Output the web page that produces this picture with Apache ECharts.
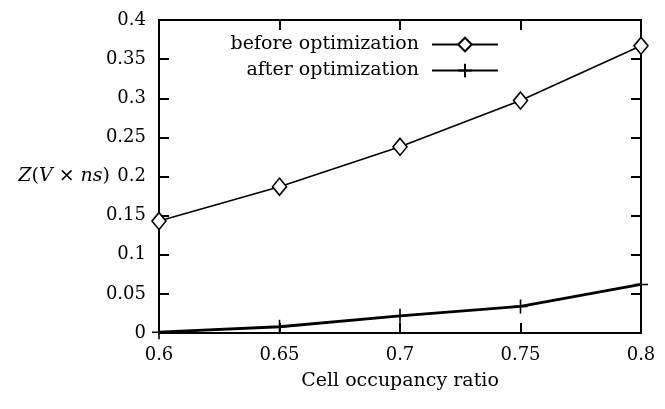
<!DOCTYPE html>
<html>
<head>
<meta charset="utf-8">
<script src="https://cdn.jsdelivr.net/npm/echarts@6/dist/echarts.min.js"></script>
<style>html,body{margin:0;padding:0;background:#fff}#c{width:665px;height:409px}</style>
</head>
<body>
<div id="c"></div>
<script>
var xValues = [0.6, 0.65, 0.7, 0.75, 0.8];
var beforeOpt = [0.143, 0.187, 0.238, 0.297, 0.367];
var afterOpt = [0.001, 0.008, 0.022, 0.034, 0.062];
var seriesNames = ['before optimization', 'after optimization'];
var xAxisTitle = 'Cell occupancy ratio';

var FONT = 'DejaVu Serif';
function pairs(ys) { return xValues.map(function (x, i) { return [x, ys[i]]; }); }
function fmt(v) { return String(Math.round(v * 1000) / 1000); }

var chart = echarts.init(document.getElementById('c'));
var tickStyle = { show: true, inside: true, length: 10, lineStyle: { color: '#000', width: 2 } };
var axisLine = { show: true, onZero: false, lineStyle: { color: '#000', width: 2 } };
var plusPath = 'path://M5,0L5,10M0,5L10,5';
var legendText = { fontFamily: FONT, fontSize: 19, color: '#000', padding: [0, 8, 0, 0] };

chart.setOption({
  animation: false,
  backgroundColor: '#fff',
  grid: { left: 159, right: 24, top: 20, bottom: 76, show: false },
  legend: [
    { data: [seriesNames[0]], orient: 'vertical', align: 'right', right: 161, top: 30,
      itemWidth: 66, itemHeight: 17, textStyle: legendText },
    { data: [seriesNames[1]], orient: 'vertical', align: 'right', right: 161, top: 56,
      itemWidth: 66, itemHeight: 17, textStyle: legendText }
  ],
  xAxis: [
    { type: 'value', min: 0.6, max: 0.8, interval: 0.05, position: 'bottom',
      axisLine: axisLine, axisTick: tickStyle, splitLine: { show: false },
      axisLabel: { margin: 13, fontFamily: FONT, fontSize: 18, color: '#000', formatter: fmt },
      name: xAxisTitle, nameLocation: 'middle', nameGap: 39,
      nameTextStyle: { fontFamily: FONT, fontSize: 19, color: '#000' } },
    { type: 'value', min: 0.6, max: 0.8, interval: 0.05, position: 'top',
      axisLine: axisLine, axisTick: tickStyle, splitLine: { show: false }, axisLabel: { show: false } }
  ],
  yAxis: [
    { type: 'value', min: 0, max: 0.4, interval: 0.05, position: 'left',
      axisLine: axisLine, axisTick: tickStyle, splitLine: { show: false },
      axisLabel: { margin: 13, fontFamily: FONT, fontSize: 18, color: '#000', formatter: fmt },
      name: '{i|Z}{r|(}{i|V}{r| × }{i|ns}{r|)}', nameLocation: 'middle', nameRotate: 0, nameGap: 49,
      nameMoveOverlap: false,
      nameTextStyle: { align: 'right', fontFamily: FONT, fontSize: 19, color: '#000',
        rich: { i: { fontStyle: 'italic', fontFamily: FONT, fontSize: 19, color: '#000' },
                r: { fontFamily: FONT, fontSize: 19, color: '#000' } } } },
    { type: 'value', min: 0, max: 0.4, interval: 0.05, position: 'right',
      axisLine: axisLine, axisTick: tickStyle, splitLine: { show: false }, axisLabel: { show: false } }
  ],
  series: [
    { name: seriesNames[0], type: 'line', data: pairs(beforeOpt), xAxisIndex: 0, yAxisIndex: 0,
      symbol: 'diamond', symbolSize: [14, 17], showAllSymbol: true, z: 5,
      lineStyle: { color: '#000', width: 1.6 },
      itemStyle: { color: '#fff', borderColor: '#000', borderWidth: 1.6 } },
    { name: seriesNames[1], type: 'line', data: pairs(afterOpt), xAxisIndex: 0, yAxisIndex: 0,
      symbol: plusPath, symbolSize: 14, showAllSymbol: true, z: 5,
      lineStyle: { color: '#000', width: 2.8 },
      itemStyle: { color: '#000', borderColor: '#000', borderWidth: 1.6 } }
  ]
});
</script>
</body>
</html>
